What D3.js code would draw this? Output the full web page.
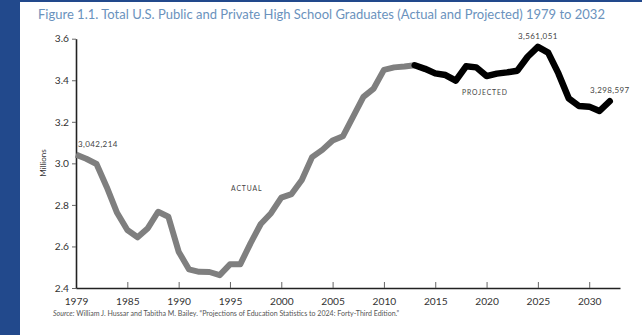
<!DOCTYPE html>
<html>
<head>
<meta charset="utf-8">
<script src="https://cdn.jsdelivr.net/npm/d3@7"></script>
<style>
    body { margin: 0; background: #22498c; }
    svg { display: block; }
</style>
</head>
<body>
<div id="chart"></div>
<script>
// values (millions of graduates)
const actualYears = [1980, 1981, 1982, 1983, 1984, 1985, 1986, 1987, 1988, 1989,
    1990, 1991, 1992, 1993, 1994, 1995, 1996, 1997, 1998, 1999,
    2000, 2001, 2002, 2003, 2004, 2005, 2006, 2007, 2008, 2009,
    2010, 2011, 2012, 2013];
const actualValues = [3.042, 3.022, 2.997, 2.885, 2.762, 2.679, 2.644, 2.688, 2.767, 2.743,
    2.575, 2.490, 2.478, 2.477, 2.462, 2.514, 2.514, 2.615, 2.708, 2.760,
    2.835, 2.852, 2.920, 3.030, 3.065, 3.110, 3.130, 3.225, 3.320, 3.360,
    3.450, 3.462, 3.466, 3.472];

const projectedYears = [2013, 2014, 2015, 2016, 2017, 2018, 2019, 2020, 2021, 2022,
    2023, 2024, 2025, 2026, 2027, 2028, 2029, 2030, 2031, 2032];
const projectedValues = [3.472, 3.455, 3.433, 3.425, 3.398, 3.467, 3.462, 3.420, 3.432, 3.438,
    3.446, 3.513, 3.561, 3.533, 3.433, 3.313, 3.276, 3.273, 3.252, 3.299];

const xTickYears = [1980, 1985, 1990, 1995, 2000, 2005, 2010, 2015, 2020, 2025, 2030];
const xTickLabels = ["1979", "1985", "1990", "1995", "2000", "2005", "2010", "2015", "2020", "2025", "2030"];
const yTicks = [2.4, 2.6, 2.8, 3.0, 3.2, 3.4, 3.6];

// point labels: [year, value, text]
const pointLabels = [
    [1980, 3.042, "3,042,214"],
    [2025, 3.561, "3,561,051"],
    [2032, 3.299, "3,298,597"]
];

const title = "Figure 1.1. Total U.S. Public and Private High School Graduates (Actual and Projected) 1979 to 2032";

let width = 642, height = 335;

let svg = d3.select("#chart")
    .append("svg")
    .attr("width", width)
    .attr("height", height);

// slide background + white panel
svg.append("rect")
    .attr("width", width)
    .attr("height", height)
    .attr("fill", "#22498c");
svg.append("rect")
    .attr("x", 20)
    .attr("y", 2)
    .attr("width", width - 20)
    .attr("height", height - 2)
    .attr("fill", "#ffffff");

let x = d3.scaleLinear()
    .domain([1980, 2033])
    .range([76, 620]);

let y = d3.scaleLinear()
    .domain([2.4, 3.6])
    .range([288, 38.7]);

// title
svg.append("text")
    .attr("x", 38)
    .attr("y", 19)
    .attr("font-family", "Lato, sans-serif")
    .attr("font-size", "13px")
    .attr("fill", "#6a92bd")
    .text(title);

// y axis
let yAxis = svg.append("g")
    .attr("transform", "translate(76,0)")
    .call(d3.axisLeft(y)
        .tickValues(yTicks)
        .tickSizeInner(4)
        .tickSizeOuter(0)
        .tickPadding(3)
        .tickFormat(d3.format(".1f")));

// x axis
let xAxis = svg.append("g")
    .attr("transform", "translate(0,288)")
    .call(d3.axisBottom(x)
        .tickValues(xTickYears)
        .tickSizeInner(-6)
        .tickSizeOuter(0)
        .tickPadding(10)
        .tickFormat(function(d, i) { return xTickLabels[i]; }));

[yAxis, xAxis].forEach(function(g) {
    g.select(".domain")
        .attr("stroke", "#222")
        .attr("stroke-width", 1.6);
    g.selectAll(".tick line")
        .attr("stroke", "#666")
        .attr("stroke-width", 1);
    g.selectAll(".tick text")
        .attr("font-family", "Lato, sans-serif")
        .attr("font-size", "10.2px")
        .attr("fill", "#333");
});
xAxis.selectAll(".tick").filter(function(d) { return d === 1980; }).select("line").remove();

// y axis title
svg.append("text")
    .attr("transform", "translate(44,163) rotate(-90)")
    .attr("text-anchor", "middle")
    .attr("dominant-baseline", "middle")
    .attr("font-family", "Lato, sans-serif")
    .attr("font-size", "8px")
    .attr("fill", "#333")
    .text("Millions");

let line = d3.line()
    .x(function(d) { return x(d[0]); })
    .y(function(d) { return y(d[1]); });

// actual
svg.append("path")
    .datum(d3.zip(actualYears, actualValues))
    .attr("fill", "none")
    .attr("stroke", "#7f7f7f")
    .attr("stroke-width", 6)
    .attr("stroke-linejoin", "round")
    .attr("d", line);

// projected
svg.append("path")
    .datum(d3.zip(projectedYears, projectedValues))
    .attr("fill", "none")
    .attr("stroke", "#000")
    .attr("stroke-width", 6.5)
    .attr("stroke-linejoin", "round")
    .attr("stroke-linecap", "round")
    .attr("d", line);

// value labels
svg.append("g")
    .selectAll("text")
    .data(pointLabels)
    .enter()
    .append("text")
    .attr("x", function(d, i) { return i === 0 ? x(d[0]) + 2 : x(d[0]); })
    .attr("y", function(d) { return y(d[1]) - 10; })
    .attr("text-anchor", function(d, i) { return i === 0 ? "start" : "middle"; })
    .attr("dominant-baseline", "middle")
    .attr("font-family", "Lato, sans-serif")
    .attr("font-size", "8px")
    .attr("letter-spacing", "0.4px")
    .attr("fill", "#444")
    .text(function(d) { return d[2]; });

// series labels
svg.append("text")
    .attr("x", 231)
    .attr("y", 189)
    .attr("dominant-baseline", "middle")
    .attr("font-family", "Lato, sans-serif")
    .attr("font-size", "6.8px")
    .attr("letter-spacing", "0.9px")
    .attr("fill", "#444")
    .text("ACTUAL");
svg.append("text")
    .attr("x", 462)
    .attr("y", 93.3)
    .attr("dominant-baseline", "middle")
    .attr("font-family", "Lato, sans-serif")
    .attr("font-size", "6.8px")
    .attr("letter-spacing", "0.9px")
    .attr("fill", "#444")
    .text("PROJECTED");

// source line
let src = svg.append("text")
    .attr("x", 53)
    .attr("y", 316)
    .attr("font-family", "Lato, sans-serif")
    .attr("font-size", "7.05px")
    .attr("fill", "#555");
src.append("tspan")
    .attr("font-style", "italic")
    .text("Source:");
src.append("tspan")
    .text(" William J. Hussar and Tabitha M. Bailey. \u201cProjections of Education Statistics to 2024: Forty-Third Edition.\u201d");
</script>
</body>
</html>
